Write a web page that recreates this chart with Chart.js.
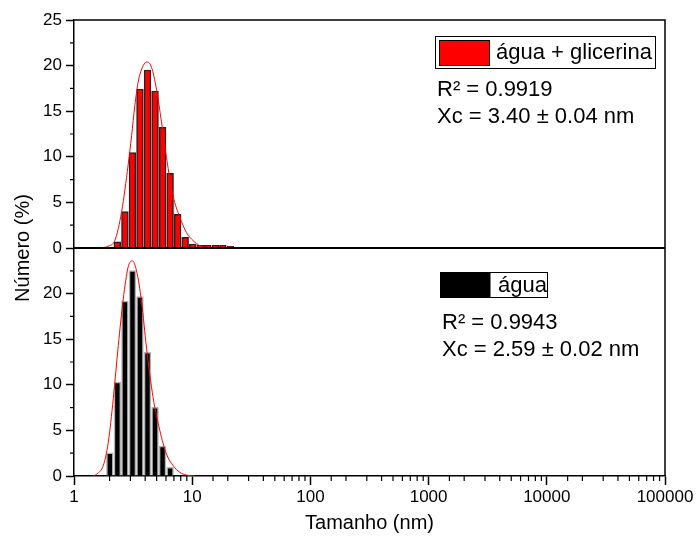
<!DOCTYPE html>
<html><head><meta charset="utf-8">
<script src="https://cdn.jsdelivr.net/npm/chart.js@4"></script>
<style>html,body{margin:0;padding:0;background:#fff}#c{display:block}</style>
</head><body>
<canvas id="c" width="696" height="542"></canvas>
<script>
// ---- data ----
const sizesGlycerol  = [2.328, 2.696, 3.122, 3.615, 4.187, 4.849, 5.615, 6.503, 7.531, 8.721, 10.10, 11.70, 13.54, 15.69, 18.17, 21.04];
const numberGlycerol = [0.69, 3.98, 10.45, 17.43, 19.52, 17.21, 13.23, 8.19, 3.70, 1.17, 0.44, 0.30, 0.30, 0.30, 0.30, 0.19];
const sizesWater     = [2.010, 2.328, 2.696, 3.122, 3.615, 4.187, 4.849, 5.615, 6.503];
const numberWater    = [2.55, 10.29, 19.17, 22.53, 19.68, 13.57, 7.54, 3.27, 0.96];

const fitGlycerolX = [1.71, 1.94, 2.22, 2.53, 2.87, 3.07, 3.27, 3.49, 3.85, 4.16, 4.53, 4.99, 5.50, 6.06, 6.89, 7.85, 8.93, 10.2, 11.6, 13.2, 15.5];
const fitGlycerolY = [0, 0.2, 0.85, 4.0, 9.1, 12.3, 15.6, 18.2, 20.0, 20.4, 19.8, 17.4, 13.8, 9.9, 5.7, 3.4, 1.7, 0.8, 0.25, 0.05, 0];
const fitWaterX = [1.46, 1.59, 1.77, 1.95, 2.15, 2.37, 2.61, 2.87, 3.11, 3.38, 3.73, 4.11, 4.67, 5.32, 6.06, 6.89, 7.85, 8.93, 10.5];
const fitWaterY = [0, 0.3, 1.15, 3.7, 8.5, 14.3, 19.4, 22.9, 23.6, 22.5, 19.1, 14.0, 8.6, 5.0, 2.4, 1.15, 0.4, 0.1, 0];

const xTickLabels = ['1', '10', '100', '1000', '10000', '100000'];
const yTickLabelsTop = ['0', '5', '10', '15', '20', '25'];
const yTickLabelsBottom = ['0', '5', '10', '15', '20'];

const legendTop = 'água + glicerina';
const legendBottom = 'água';
const statsTop = ['R² = 0.9919', 'Xc = 3.40 ± 0.04 nm'];
const statsBottom = ['R² = 0.9943', 'Xc = 2.59 ± 0.02 nm'];
const xTitle = 'Tamanho (nm)';
const yTitle = 'Número (%)';

// ---- helpers ----
const FONT = "'Liberation Sans', Arial, sans-serif";
const pts = (xs, ys) => xs.map((x, i) => ({x, y: ys[i]}));
const isDecade = v => Math.abs(Math.log10(v) - Math.round(Math.log10(v))) < 1e-9;
const isMajorY = v => Math.abs(v / 5 - Math.round(v / 5)) < 1e-9;

const decorPlugin = {
  id: 'decor',
  afterDraw(chart) {
    const {ctx, chartArea: a, scales} = chart;
    const x = scales.x, yT = scales.yTop, yB = scales.yBot;
    ctx.save();
    // frame
    ctx.strokeStyle = '#000';
    ctx.lineWidth = 1.5;
    ctx.beginPath();
    ctx.moveTo(a.left, a.top); ctx.lineTo(a.right, a.top); ctx.lineTo(a.right, a.bottom);
    ctx.stroke();
    // divider between panels
    ctx.lineWidth = 2;
    ctx.beginPath();
    ctx.moveTo(a.left, yT.bottom); ctx.lineTo(a.right, yT.bottom);
    ctx.stroke();
    // minor ticks
    ctx.lineWidth = 1.2;
    ctx.beginPath();
    x.ticks.forEach(t => {
      if (!isDecade(t.value)) {
        const px = x.getPixelForValue(t.value);
        ctx.moveTo(px, a.bottom); ctx.lineTo(px, a.bottom + 5);
      }
    });
    [yT, yB].forEach(s => {
      s.ticks.forEach(t => {
        if (!isMajorY(t.value)) {
          const py = s.getPixelForValue(t.value);
          ctx.moveTo(a.left - 4, py); ctx.lineTo(a.left, py);
        }
      });
    });
    ctx.stroke();

    // legends
    ctx.lineWidth = 1;
    ctx.strokeStyle = '#000';
    ctx.strokeRect(435.5, 36.5, 220, 32);
    ctx.fillStyle = '#ff0000';
    ctx.fillRect(439.5, 40.5, 50, 25);
    ctx.strokeRect(439.5, 40.5, 50, 25);
    ctx.strokeRect(440.5, 272.5, 107, 25);
    ctx.fillStyle = '#000';
    ctx.fillRect(440.5, 272.5, 50, 25);

    ctx.fillStyle = '#000';
    ctx.font = '22px ' + FONT;
    ctx.textAlign = 'left';
    ctx.textBaseline = 'middle';
    ctx.fillText(legendTop, 496, 53);
    ctx.fillText(statsTop[0], 437, 90);
    ctx.fillText(statsTop[1], 437, 117);
    ctx.fillText(legendBottom, 498, 286);
    ctx.fillText(statsBottom[0], 442, 323);
    ctx.fillText(statsBottom[1], 442, 350);

    // axis titles
    ctx.font = '20px ' + FONT;
    ctx.textAlign = 'center';
    ctx.fillText(xTitle, (a.left + a.right) / 2, 523);
    ctx.save();
    ctx.translate(23, (a.top + a.bottom) / 2);
    ctx.rotate(-Math.PI / 2);
    ctx.fillText(yTitle, 0, 0);
    ctx.restore();
    ctx.restore();
  }
};

const yCommon = (labels) => ({
  type: 'linear', position: 'left', stack: 'panels', stackWeight: 1,
  min: 0, max: 25, offset: false,
  ticks: {
    stepSize: 2.5, autoSkip: false, padding: 4, color: '#000',
    font: {family: FONT, size: 17},
    callback: v => { const s = String(v); return labels.includes(s) ? s : ''; }
  },
  grid: {
    drawOnChartArea: false, drawTicks: true, tickLength: 8, tickWidth: 1.5,
    tickColor: c => (c.tick && labels.includes(String(c.tick.value))) ? '#000' : 'rgba(0,0,0,0)'
  },
  border: {display: true, color: '#000', width: 1.5},
  afterFit: s => { s.width = 74; }
});

new Chart(document.getElementById('c'), {
  type: 'bar',
  data: {
    datasets: [
      {type: 'line', data: pts(fitGlycerolX, fitGlycerolY), yAxisID: 'yTop', borderColor: '#ff0000', borderWidth: 1,
       pointRadius: 0, cubicInterpolationMode: 'monotone', fill: false, order: 0},
      {type: 'bar', data: pts(sizesGlycerol, numberGlycerol), yAxisID: 'yTop', backgroundColor: '#ff0000',
       borderColor: '#222', borderWidth: 1.5, grouped: false, barThickness: 6.8, order: 1},
      {type: 'line', data: pts(fitWaterX, fitWaterY), yAxisID: 'yBot', borderColor: '#ff0000', borderWidth: 1,
       pointRadius: 0, cubicInterpolationMode: 'monotone', fill: false, order: 0},
      {type: 'bar', data: pts(sizesWater, numberWater), yAxisID: 'yBot', backgroundColor: '#000',
       borderColor: '#b4b4b4', borderWidth: 1.5, grouped: false, barThickness: 6.8, order: 1}
    ]
  },
  options: {
    responsive: false, animation: false,
    plugins: {legend: {display: false}, tooltip: {enabled: false}},
    layout: {padding: {left: 0, right: 31, top: 20, bottom: 0}},
    scales: {
      x: {
        type: 'logarithmic', min: 1, max: 100000, offset: false,
        ticks: {
          autoSkip: false, maxRotation: 0, minRotation: 0, padding: 2, color: '#000',
          font: {family: FONT, size: 17},
          callback: v => { const s = String(v); return (isDecade(v) && xTickLabels.includes(s)) ? s : ''; }
        },
        grid: {
          offset: false, drawOnChartArea: false, drawTicks: true, tickLength: 9, tickWidth: 1.5,
          tickColor: c => (c.tick && isDecade(c.tick.value)) ? '#000' : 'rgba(0,0,0,0)'
        },
        border: {display: true, color: '#000', width: 1.5},
        afterFit: s => { s.height = 66; }
      },
      yBot: yCommon(yTickLabelsBottom),
      yTop: yCommon(yTickLabelsTop)
    }
  },
  plugins: [decorPlugin]
});
</script>
</body></html>
